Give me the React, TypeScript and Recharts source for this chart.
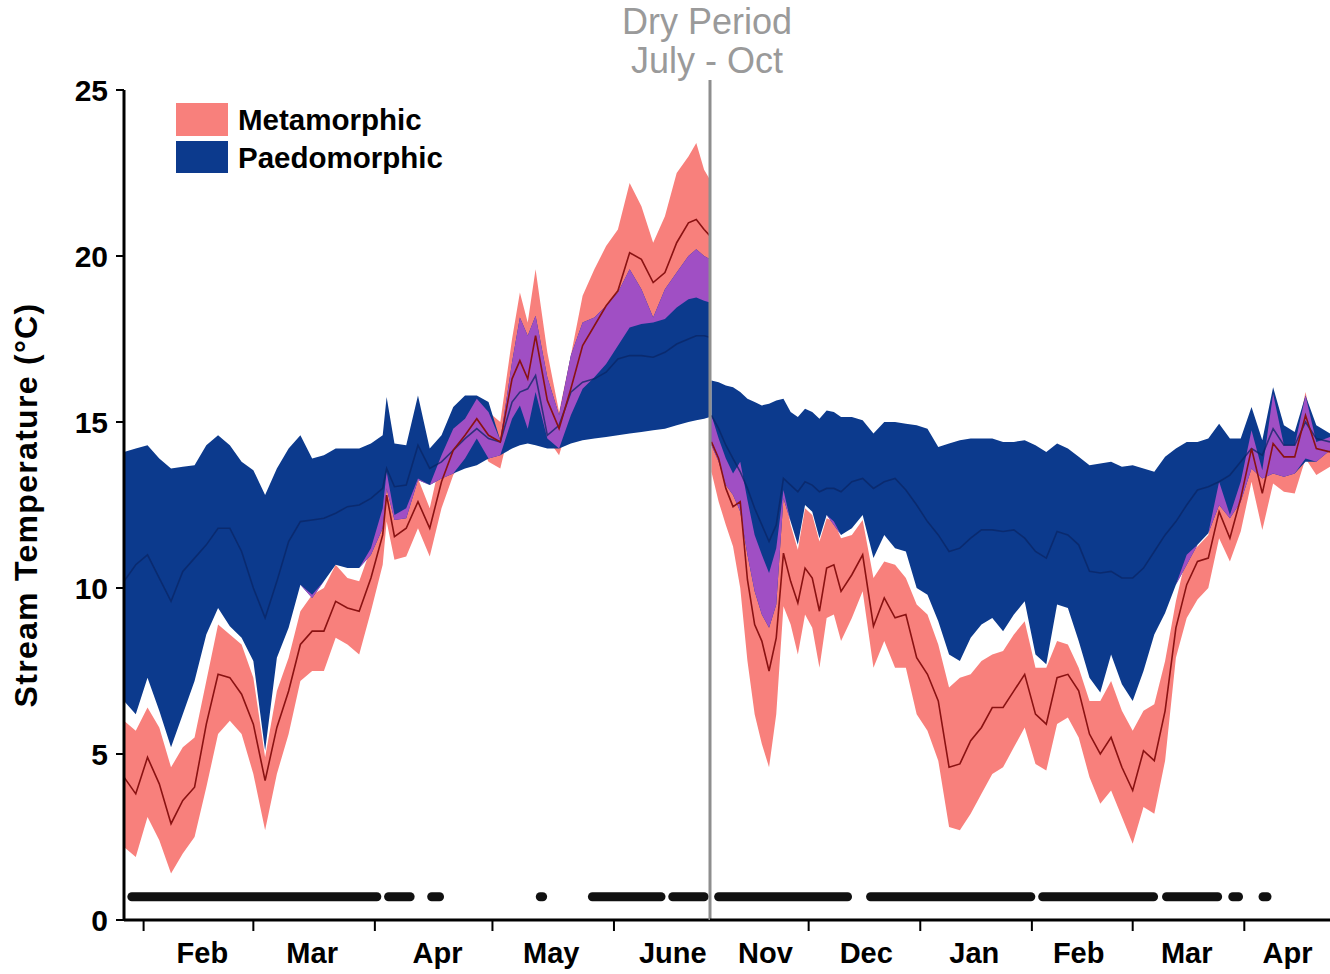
import React from "react";
import { ComposedChart, Area, Line, XAxis, YAxis, ReferenceLine } from "recharts";

const FONT = "'Liberation Sans', Arial, Helvetica, sans-serif";

const PINK = "#F8807C";
const NAVY = "#0C3A8D";
const PURPLE = "#A04FC4";
const PINK_LINE = "#8A1212";
const NAVY_LINE = "#0A2566";

// ---- first season: late Jan – June (day 0 = Feb 1) ----
const days1 = [
  -5, -2, 1, 4, 7, 10, 13, 16, 19, 22, 25, 28, 31, 34, 37, 40, 43, 46, 49, 52,
  55, 58, 61, 62, 64, 67, 70, 73, 76, 79, 82, 85, 88, 91, 94, 96, 98, 100, 103, 106,
  109, 112, 115, 118, 121, 124, 127, 130, 133, 136, 139, 141, 143, 144.5,
];
const metaLow1 = [
  2.2, 1.9, 3.1, 2.4, 1.4, 2.0, 2.5, 4.0, 5.6, 6.0, 5.6, 4.4, 2.7, 4.4, 5.6, 7.2, 7.5, 7.5, 8.5, 8.3,
  8.0, 9.3, 10.7, 12.0, 10.85, 10.95, 11.8, 10.95, 12.4, 13.4, 13.9, 14.5, 13.8, 13.6, 15.1, 15.5, 14.8, 15.9, 14.5, 14.0,
  15.2, 16.0, 16.35, 16.75, 17.3, 17.85, 17.95, 18.0, 18.1, 18.45, 18.7, 18.75, 18.65, 18.6,
];
const metaMean1 = [
  4.3, 3.8, 4.9, 4.1, 2.9, 3.6, 4.0, 5.9, 7.4, 7.3, 6.8, 5.9, 4.2, 5.8, 6.9, 8.3, 8.7, 8.7, 9.6, 9.4,
  9.3, 10.3, 11.6, 12.8, 11.55, 11.8, 12.6, 11.8, 13.2, 14.15, 14.6, 15.1, 14.6, 14.4, 16.3, 16.85, 16.3, 17.6, 15.65, 14.8,
  16.0, 17.3, 17.9, 18.5, 18.95, 20.1, 19.9, 19.2, 19.5, 20.4, 21.0, 21.1, 20.8, 20.6,
];
const metaHigh1 = [
  6.0, 5.7, 6.4, 5.8, 4.6, 5.2, 5.5, 7.2, 8.9, 8.6, 8.3, 7.3, 4.9, 6.9, 7.9, 9.3, 9.8, 10.0, 10.7, 10.3,
  10.2, 11.2, 12.4, 13.5, 12.2, 12.4, 13.3, 12.4, 14.0, 14.8, 15.1, 15.7, 15.3, 15.0, 17.5, 18.9, 18.0, 19.6, 17.1, 15.3,
  17.0, 18.8, 19.6, 20.3, 20.8, 22.2, 21.5, 20.4, 21.2, 22.5, 23.0, 23.4, 22.6, 22.3,
];
const paedoLow1 = [
  6.6, 6.2, 7.3, 6.3, 5.2, 6.2, 7.2, 8.6, 9.4, 8.85, 8.5, 7.8, 5.1, 7.9, 8.8, 10.1, 9.7, 10.2, 10.7, 10.6,
  10.6, 11.0, 11.8, 13.0, 12.05, 12.1, 13.25, 13.1, 13.3, 13.45, 13.6, 13.7, 13.9, 14.0, 14.2, 14.3, 14.35, 14.3, 14.2, 14.2,
  14.35, 14.45, 14.5, 14.55, 14.6, 14.65, 14.7, 14.75, 14.8, 14.9, 15.0, 15.05, 15.1, 15.15,
];
const paedoMean1 = [
  10.2, 10.7, 11.0, 10.3, 9.6, 10.5, 10.9, 11.3, 11.8, 11.8, 11.1, 10.0, 9.1, 10.2, 11.4, 12.0, 12.05, 12.1, 12.25, 12.45,
  12.5, 12.7, 13.0, 13.6, 13.05, 13.1, 14.3, 13.6, 13.8, 14.15, 14.5, 14.8, 14.5, 14.4, 15.6, 15.9, 16.0, 16.4, 14.6, 14.9,
  15.9, 16.2, 16.3, 16.5, 16.9, 17.0, 17.0, 16.95, 17.1, 17.35, 17.5, 17.6, 17.6, 17.55,
];
const paedoHigh1 = [
  14.1, 14.2, 14.3, 13.9, 13.6, 13.65, 13.7, 14.3, 14.6, 14.3, 13.8, 13.55, 12.8, 13.6, 14.2, 14.6, 13.9, 14.0, 14.2, 14.2,
  14.2, 14.35, 14.6, 15.75, 14.35, 14.3, 15.8, 14.2, 14.6, 15.45, 15.8, 15.8, 15.6, 14.45, 16.8, 18.15, 17.6, 18.2, 16.35, 15.2,
  17.0, 18.0, 18.15, 18.5, 18.9, 19.6, 19.0, 18.15, 19.0, 19.5, 20.0, 20.2, 20.0, 19.9,
];

// ---- second season: Nov – Apr (day 0 = Dec 1) ----
const days2 = [
  -27, -25, -23, -21, -19, -17, -15, -13, -11, -9, -7, -5, -3, -1, 1, 3, 5, 7, 9, 12,
  15, 18, 21, 24, 27, 30, 33, 36, 39, 42, 45, 48, 51, 54, 57, 60, 63, 66, 69, 72,
  75, 78, 81, 84, 87, 90, 93, 96, 99, 102, 105, 108, 111, 114, 117, 120, 123, 126, 129, 132,
  135, 138, 141, 144.8,
];
const metaLow2 = [
  13.5, 12.6, 11.9, 11.25, 10.0, 7.8, 6.2, 5.3, 4.6, 6.2, 9.45, 8.9, 8.0, 9.2, 8.8, 7.6, 9.1, 9.2, 8.4, 9.1,
  9.9, 7.6, 8.4, 7.6, 7.6, 6.2, 5.7, 4.8, 2.8, 2.7, 3.2, 3.8, 4.4, 4.6, 5.2, 5.8, 4.7, 4.5, 5.9, 6.1,
  5.5, 4.3, 3.5, 3.9, 3.1, 2.3, 3.4, 3.2, 4.8, 7.9, 9.1, 9.65, 10.0, 11.5, 10.8, 11.7, 13.2, 11.75, 13.15, 12.9,
  12.85, 13.9, 13.4, 13.65,
];
const metaMean2 = [
  14.4, 13.9, 13.0, 12.45, 12.6, 10.25, 8.9, 8.4, 7.5, 8.5, 11.05, 10.2, 9.55, 10.6, 10.3, 9.3, 10.6, 10.7, 9.9, 10.4,
  11.0, 8.85, 9.7, 9.1, 9.2, 7.9, 7.4, 6.6, 4.6, 4.7, 5.4, 5.8, 6.4, 6.4, 6.9, 7.4, 6.2, 5.9, 7.3, 7.4,
  6.9, 5.6, 5.0, 5.5, 4.6, 3.9, 5.1, 4.8, 6.3, 8.8, 10.1, 10.8, 10.9, 12.3, 11.5, 12.7, 14.2, 12.85, 14.35, 13.95,
  13.95, 15.2, 14.2, 14.1,
];
const metaHigh2 = [
  15.2, 14.5, 13.9, 13.45, 13.8, 12.65, 11.6, 11.0, 10.45, 11.2, 12.95, 11.9, 11.15, 12.4, 12.2, 11.4, 12.1, 12.0, 11.5, 11.6,
  12.05, 10.3, 10.8, 10.7, 10.3, 9.5, 9.2, 8.3, 7.0, 7.3, 7.4, 7.8, 8.0, 8.1, 8.6, 9.0, 7.6, 7.6, 8.4, 8.3,
  7.6, 6.6, 6.6, 7.2, 6.3, 5.7, 6.3, 6.5, 7.8, 9.6, 11.0, 11.25, 11.6, 13.2, 12.2, 13.2, 14.75, 13.55, 15.85, 14.3,
  14.3, 15.9, 14.4, 14.55,
];
const paedoLow2 = [
  14.3, 13.8, 13.1, 12.8, 12.3, 11.0, 9.9, 9.2, 8.8, 9.5, 12.7, 12.0, 11.3, 12.5, 12.3, 11.5, 12.2, 11.9, 11.6, 11.8,
  12.2, 10.9, 11.6, 11.2, 11.1, 10.0, 9.8, 9.0, 8.0, 7.8, 8.5, 8.9, 9.1, 8.7, 9.2, 9.6, 8.0, 7.7, 9.5, 9.4,
  8.4, 7.3, 6.85, 8.0, 7.1, 6.6, 7.5, 8.6, 9.25, 10.1, 10.7, 11.3, 11.65, 12.5, 12.1, 12.6, 13.6, 13.3, 13.45, 13.35,
  13.45, 13.8, 13.8, 14.15,
];
const paedoMean2 = [
  15.2, 14.8, 14.3, 13.9, 13.5, 13.0, 12.4, 11.9, 11.4, 11.9, 13.3, 13.1, 12.9, 13.2, 13.1, 12.9, 13.0, 13.0, 12.9, 13.2,
  13.3, 13.0, 13.2, 13.3, 12.95, 12.5, 12.0, 11.6, 11.1, 11.2, 11.5, 11.75, 11.75, 11.7, 11.75, 11.5, 11.1, 10.9, 11.7, 11.6,
  11.3, 10.5, 10.45, 10.5, 10.3, 10.3, 10.6, 11.1, 11.6, 12.0, 12.5, 12.95, 13.05, 13.2, 13.4, 13.8, 14.2, 14.0, 14.8, 14.3,
  14.3, 15.0, 14.5, 14.4,
];
const paedoHigh2 = [
  16.25, 16.2, 16.1, 16.05, 15.9, 15.7, 15.6, 15.5, 15.55, 15.65, 15.7, 15.3, 15.15, 15.4, 15.3, 15.1, 15.35, 15.3, 15.15, 15.15,
  15.05, 14.65, 15.0, 15.0, 14.95, 14.9, 14.8, 14.25, 14.35, 14.45, 14.5, 14.5, 14.5, 14.4, 14.4, 14.45, 14.3, 14.1, 14.35, 14.2,
  13.95, 13.7, 13.75, 13.8, 13.65, 13.7, 13.6, 13.5, 13.95, 14.2, 14.4, 14.4, 14.5, 14.95, 14.5, 14.5, 15.45, 14.45, 16.05, 14.9,
  14.7, 15.8, 14.9, 14.65,
];

// runs of sampled days shown along the bottom
const sampled1 = [[-3, 59.5], [62.5, 68], [73.5, 75.5], [101.2, 101.8], [114.5, 132], [135, 143]];
const sampled2 = [[-25, 10.8], [17.2, 61.7], [65, 95.8], [99.4, 113.6], [117.8, 119.4], [126.2, 127.3]];
const SAMPLE_Y = 0.7;

const monthEdges1 = [0, 28, 59, 89, 120];
const monthLabelDays1 = [15, 43, 75, 104, 135];
const monthLabels1 = ["Feb", "Mar", "Apr", "May", "June"];

const monthEdges2 = [0, 31, 62, 90, 121];
const monthLabelDays2 = [-12, 16, 46, 75, 105, 133];
const monthLabels2 = ["Nov", "Dec", "Jan", "Feb", "Mar", "Apr"];

const domain1: [number, number] = [-5, 144.5];
const domain2: [number, number] = [-27.4, 144.8];
const yTicks = [0, 5, 10, 15, 20, 25];

function buildRows(
  days: number[],
  mLo: number[], mMid: number[], mHi: number[],
  pLo: number[], pMid: number[], pHi: number[]
) {
  return days.map((day, i) => {
    const bothLo = Math.max(mLo[i], pLo[i]);
    const bothHi = Math.max(bothLo, Math.min(mHi[i], pHi[i]));
    return {
      day,
      meta: [mLo[i], mHi[i]],
      metaMean: mMid[i],
      paedo: [pLo[i], pHi[i]],
      paedoMean: pMid[i],
      both: [bothLo, bothHi],
    };
  });
}

const rows1 = buildRows(days1, metaLow1, metaMean1, metaHigh1, paedoLow1, paedoMean1, paedoHigh1);
const rows2 = buildRows(days2, metaLow2, metaMean2, metaHigh2, paedoLow2, paedoMean2, paedoHigh2);

function monthTick(edges: number[], labelDays: number[], labels: string[]) {
  return (props: any) => {
    const { x, y, payload } = props;
    const idx = labelDays.indexOf(payload.value);
    if (idx >= 0) {
      return (
        <text x={x} y={y + 43} textAnchor="middle" fontFamily={FONT} fontWeight={700} fontSize={29} fill="#000">
          {labels[idx]}
        </text>
      );
    }
    return <line x1={x} x2={x} y1={y} y2={y + 11} stroke="#000" strokeWidth={2} />;
  };
}

function Panel({
  rows, domain, edges, labelDays, labels, runs, width, margin, showY, divider,
}: {
  rows: any[];
  domain: [number, number];
  edges: number[];
  labelDays: number[];
  labels: string[];
  runs: number[][];
  width: number;
  margin: { top: number; right: number; bottom: number; left: number };
  showY: boolean;
  divider?: number;
}) {
  return (
    <ComposedChart width={width} height={974} data={rows} margin={margin}>
      <XAxis
        type="number"
        dataKey="day"
        domain={domain}
        allowDataOverflow
        ticks={[...edges, ...labelDays].sort((a, b) => a - b)}
        interval={0}
        tick={monthTick(edges, labelDays, labels)}
        tickLine={false}
        tickSize={0}
        tickMargin={0}
        height={54}
        axisLine={{ stroke: "#000", strokeWidth: 3 }}
      />
      <YAxis
        type="number"
        domain={[0, 25]}
        ticks={yTicks}
        allowDataOverflow
        hide={!showY}
        width={60}
        tickSize={8}
        tickMargin={8}
        tick={{ fill: "#000", fontSize: 30, fontWeight: 700, fontFamily: FONT }}
        axisLine={{ stroke: "#000", strokeWidth: 3 }}
        tickLine={{ stroke: "#000", strokeWidth: 2 }}
      />
      <Area dataKey={(r: any) => r.meta} type="linear" stroke="none" fill={PINK} fillOpacity={1}
        isAnimationActive={false} dot={false} activeDot={false} />
      <Area dataKey={(r: any) => r.paedo} type="linear" stroke="none" fill={NAVY} fillOpacity={1}
        isAnimationActive={false} dot={false} activeDot={false} />
      <Area dataKey={(r: any) => r.both} type="linear" stroke="none" fill={PURPLE} fillOpacity={1}
        isAnimationActive={false} dot={false} activeDot={false} />
      <Line dataKey="paedoMean" type="linear" stroke={NAVY_LINE} strokeWidth={1.6} strokeOpacity={0.75}
        dot={false} activeDot={false} isAnimationActive={false} />
      <Line dataKey="metaMean" type="linear" stroke={PINK_LINE} strokeWidth={1.6}
        dot={false} activeDot={false} isAnimationActive={false} />
      {runs.map(([a, b], i) => (
        <Line
          key={`run-${i}`}
          data={[{ day: a, v: SAMPLE_Y }, { day: b, v: SAMPLE_Y }]}
          dataKey="v"
          type="linear"
          stroke="#111"
          strokeWidth={9}
          strokeLinecap="round"
          dot={false}
          activeDot={false}
          isAnimationActive={false}
        />
      ))}
      {divider !== undefined && (
        <ReferenceLine
          segment={[{ x: divider, y: 0 }, { x: divider, y: 25.3 }]}
          stroke="#8E8E8E"
          strokeWidth={3}
          ifOverflow="visible"
        />
      )}
    </ComposedChart>
  );
}

export default function App() {
  return (
    <div style={{ position: "absolute", left: 0, top: 0, width: 1330, height: 974, background: "#fff" }}>
      <div style={{ position: "absolute", left: 0, top: 0 }}>
        <Panel
          rows={rows1}
          domain={domain1}
          edges={monthEdges1}
          labelDays={monthLabelDays1}
          labels={monthLabels1}
          runs={sampled1}
          width={712}
          margin={{ top: 90, right: 2, bottom: 0, left: 64 }}
          showY
        />
      </div>
      <div style={{ position: "absolute", left: 700, top: 0 }}>
        <Panel
          rows={rows2}
          domain={domain2}
          edges={monthEdges2}
          labelDays={monthLabelDays2}
          labels={monthLabels2}
          runs={sampled2}
          width={630}
          margin={{ top: 90, right: 0, bottom: 0, left: 10 }}
          showY={false}
          divider={domain2[0]}
        />
      </div>
      <svg width={1330} height={974} style={{ position: "absolute", left: 0, top: 0, pointerEvents: "none" }}>
        <text x={707} y={34} textAnchor="middle" fontFamily={FONT} fontSize={36} fill="#9A9A9A">Dry Period</text>
        <text x={707} y={73} textAnchor="middle" fontFamily={FONT} fontSize={36} fill="#9A9A9A">July - Oct</text>
        <text transform="rotate(-90)" x={-505} y={37} textAnchor="middle" fontFamily={FONT} fontWeight={700}
          fontSize={32} letterSpacing={1.3} fill="#000">Stream Temperature (°C)</text>
        <rect x={176} y={103} width={52} height={33} fill={PINK} />
        <rect x={176} y={141} width={52} height={32} fill={NAVY} />
        <text x={238} y={130} fontFamily={FONT} fontWeight={700} fontSize={29.5} fill="#000">Metamorphic</text>
        <text x={238} y={168} fontFamily={FONT} fontWeight={700} fontSize={29.5} fill="#000">Paedomorphic</text>
      </svg>
    </div>
  );
}
